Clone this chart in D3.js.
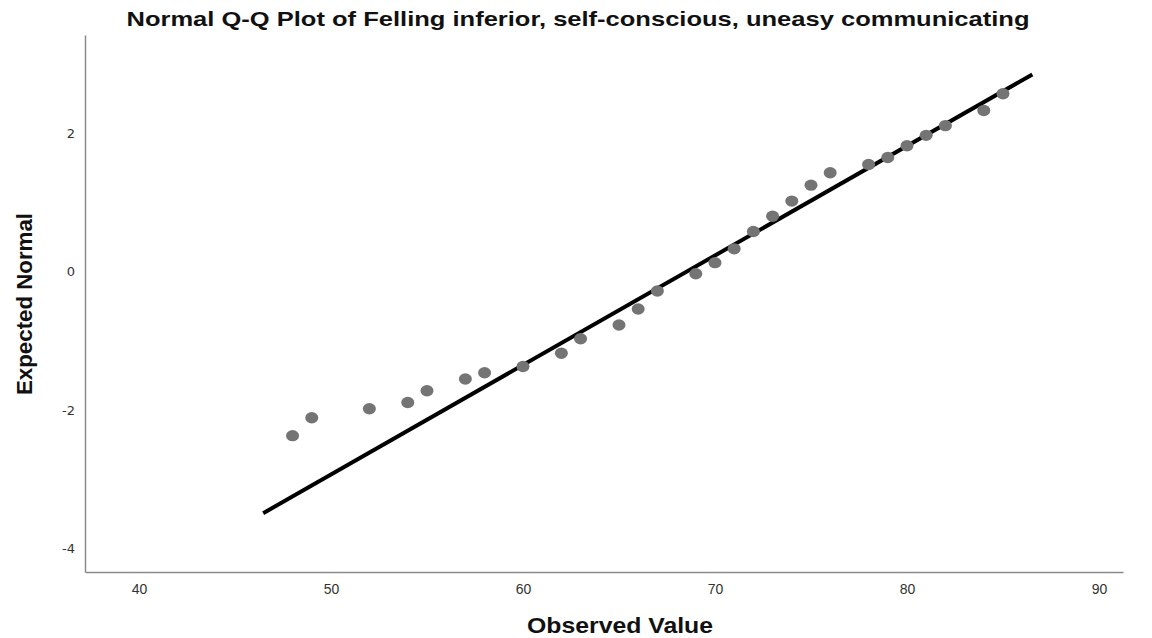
<!DOCTYPE html>
<html>
<head>
<meta charset="utf-8">
<script src="https://cdn.jsdelivr.net/npm/d3@7/dist/d3.min.js"></script>
<style>
  html, body { margin: 0; padding: 0; background: #fff; }
  svg { display: block; }
</style>
</head>
<body>
<svg id="chart" width="1152" height="638"></svg>
<script>
// ---- Data ----
const observed = [48, 49, 52, 54, 55, 57, 58, 60, 62, 63, 65, 66, 67, 69, 70, 71, 72, 73, 74, 75, 76, 78, 79, 80, 81, 82, 84, 85];
const expectedNormal = [-2.37, -2.11, -1.98, -1.89, -1.72, -1.55, -1.46, -1.37, -1.18, -0.97, -0.77, -0.54, -0.28, -0.03, 0.13, 0.33, 0.58, 0.80, 1.02, 1.25, 1.43, 1.55, 1.65, 1.82, 1.97, 2.11, 2.33, 2.57];
const lineX = [46.47, 86.53];
const lineY = [-3.49, 2.85];
const xTicks = [40, 50, 60, 70, 80, 90];
const yTicks = [-4, -2, 0, 2];
const titleText = "Normal Q-Q Plot of Felling inferior, self-conscious, uneasy communicating";
const xLabel = "Observed Value";
const yLabel = "Expected Normal";

// ---- Layout ----
const svg = d3.select("#chart");
const plotLeft = 85, plotRight = 1123, plotTop = 35, plotBottom = 572;

const x = d3.scaleLinear().domain([37.19, 91.25]).range([plotLeft, plotRight]);
const y = d3.scaleLinear().domain([-4.34, 3.42]).range([plotBottom, plotTop]);

const font = "'Liberation Sans', Arial, sans-serif";

// Title
svg.append("text")
  .attr("x", 578).attr("y", 26)
  .attr("text-anchor", "middle")
  .attr("font-family", font)
  .attr("font-weight", "bold")
  .attr("font-size", 21)
  .attr("fill", "#111")
  .attr("textLength", 903)
  .attr("lengthAdjust", "spacingAndGlyphs")
  .text(titleText);

// Axes
const xAxis = d3.axisBottom(x).tickValues(xTicks).tickSize(0).tickPadding(9).tickFormat(d3.format("d"));
const yAxis = d3.axisLeft(y).tickValues(yTicks).tickSize(0).tickPadding(10).tickFormat(d => String(d));

const gx = svg.append("g").attr("transform", `translate(0,${plotBottom})`).call(xAxis);
const gy = svg.append("g").attr("transform", `translate(${plotLeft},0)`).call(yAxis);

[gx, gy].forEach(g => {
  g.select(".domain").attr("stroke", "#8a8a8a").attr("stroke-width", 1.5);
  g.selectAll(".tick text")
    .attr("font-family", "'DejaVu Sans', sans-serif")
    .attr("font-size", 13)
    .attr("fill", "#333");
});
gx.selectAll(".tick text").attr("dy", "0.9em").attr("font-family", "'Liberation Sans Narrow', 'Liberation Sans', sans-serif").attr("font-size", 14);

// Axis titles
svg.append("text")
  .attr("x", 620).attr("y", 633)
  .attr("text-anchor", "middle")
  .attr("font-family", font)
  .attr("font-weight", "bold")
  .attr("font-size", 22)
  .attr("fill", "#111")
  .attr("textLength", 186)
  .attr("lengthAdjust", "spacingAndGlyphs")
  .text(xLabel);

svg.append("text")
  .attr("transform", "translate(32,304) rotate(-90)")
  .attr("text-anchor", "middle")
  .attr("font-family", font)
  .attr("font-weight", "bold")
  .attr("font-size", 22)
  .attr("fill", "#111")
  .attr("textLength", 182)
  .attr("lengthAdjust", "spacingAndGlyphs")
  .text(yLabel);

// Reference line
svg.append("line")
  .attr("x1", x(lineX[0])).attr("y1", y(lineY[0]))
  .attr("x2", x(lineX[1])).attr("y2", y(lineY[1]))
  .attr("stroke", "#000")
  .attr("stroke-width", 4);

// Points
svg.append("g").selectAll("ellipse")
  .data(observed.map((v, i) => ({x: v, y: expectedNormal[i]})))
  .join("ellipse")
  .attr("cx", d => x(d.x))
  .attr("cy", d => y(d.y))
  .attr("rx", 6.5)
  .attr("ry", 5.7)
  .attr("fill", "#747474");
</script>
</body>
</html>
